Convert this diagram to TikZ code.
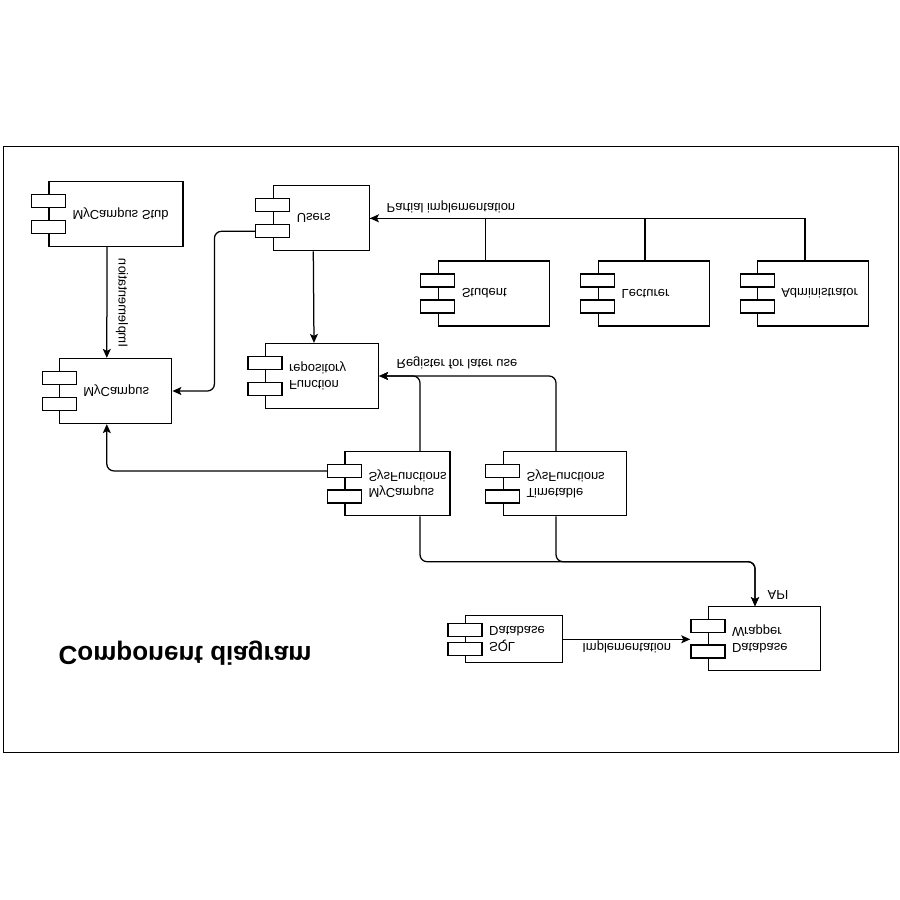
\documentclass[tikz,border=0pt]{standalone}
\usepackage{fontspec}
\setmainfont{Liberation Sans}
\usetikzlibrary{arrows.meta}
% component box with its two port tabs and a left-aligned label
\newcommand{\umlcomp}[5]{%
  \node[comp,minimum width=#3,minimum height=#4] (#1) at #2 {};
  \path (#1.west) ++(0,-0.2*#4) node[port] (#1-a) {};
  \path (#1.west) ++(0,0.2*#4) node[port] (#1-b) {};
  \node[txt,anchor=west] (#1-t) at ([xshift=23.5]#1.west) {#5};
}

\begin{document}
\begin{tikzpicture}[
    x=1pt,y=1pt,yscale=-1,transform shape,
    line width=1.25pt,
    comp/.style={draw,fill=white,inner sep=0pt},
    port/.style={draw,fill=white,inner sep=0pt,minimum width=34,minimum height=13},
    txt/.style={inner sep=0pt,align=left,font=\fontsize{13}{16}\selectfont},
    lbl/.style={inner sep=0pt,font=\fontsize{13}{16}\selectfont},
    arr/.style={-{Stealth[length=9pt,width=8pt,inset=2pt]},rounded corners=7pt}
  ]
    \useasboundingbox (0,0) rectangle (900,900);
    \draw[line width=1pt] (3.5,146.5) rectangle (898,752.5);

    \umlcomp{stub}{(116,214)}{134}{65}{MyCampus Stub}
    \umlcomp{users}{(321.3,218.3)}{96}{65}{Users}
    \umlcomp{mycampus}{(115.8,391)}{112}{65}{MyCampus}
    \umlcomp{funcrepo}{(322,376)}{113}{65}{Function\\repository}
    \umlcomp{student}{(493.8,293.5)}{111}{65}{Student}
    \umlcomp{lecturer}{(653.7,293.5)}{111}{65}{Lecturer}
    \umlcomp{admin}{(813.3,293.5)}{111}{65}{Administrator}
    \umlcomp{mcsys}{(397.5,483.7)}{105}{64}{MyCampus\\SysFunctions}
    \umlcomp{ttsys}{(564.7,483.7)}{123}{64}{Timetable\\SysFunctions}
    \umlcomp{sqldb}{(514.2,639.3)}{97}{47}{SQL\\Database}
    \umlcomp{wrapper}{(764.5,638.8)}{112}{64}{Database\\Wrapper}

    \node[font=\fontsize{26}{30}\selectfont\bfseries,inner sep=0pt,anchor=west] (title) at (58,653) {Component diagram};

    \draw[arr] ([xshift=-9]stub.north) -- ([xshift=-9]mycampus.south);
    \node[lbl,rotate=-90] (stubimpl) at (122,303) {Implementation};

    \draw[arr] (users-b.west) -| ([xshift=42]mycampus.east) -- (mycampus.east);
    \draw[arr] ([xshift=-8]users.north) -- ([xshift=-8]funcrepo.south);

    \draw ([xshift=-8]student.south) |- (users.east);
    \draw ([xshift=-8.7]lecturer.south) |- (users.east);
    \draw[arr,sharp corners] ([xshift=-8.3]admin.south) |- (users.east);
    \node[lbl,anchor=west] (partial) at (386,207) {Partial implementation};

    \draw[arr] ([xshift=22.5]mcsys.south) |- (funcrepo.east);
    \draw[arr] ([xshift=-8.7]ttsys.south) |- (funcrepo.east);
    \node[lbl,anchor=west] (register) at (396,363) {Register for later use};

    \draw[arr] (mcsys-a.west) -| ([xshift=-9]mycampus.north);

    \coordinate (apibend) at (755,561.7);
    \draw[arr] ([xshift=22.5]mcsys.north) |- (apibend) -- ([xshift=-9.5]wrapper.south);
    \draw[arr] ([xshift=-8.7]ttsys.north) |- (apibend) -- ([xshift=-9.5]wrapper.south);
    \node[lbl,anchor=west] (api) at (767,595) {API};

    \draw[arr] (sqldb.east) -- (sqldb.east -| wrapper-a.west);
    \node[lbl,anchor=west] (dbimpl) at (581.7,647) {Implementation};
\end{tikzpicture}
\end{document}
